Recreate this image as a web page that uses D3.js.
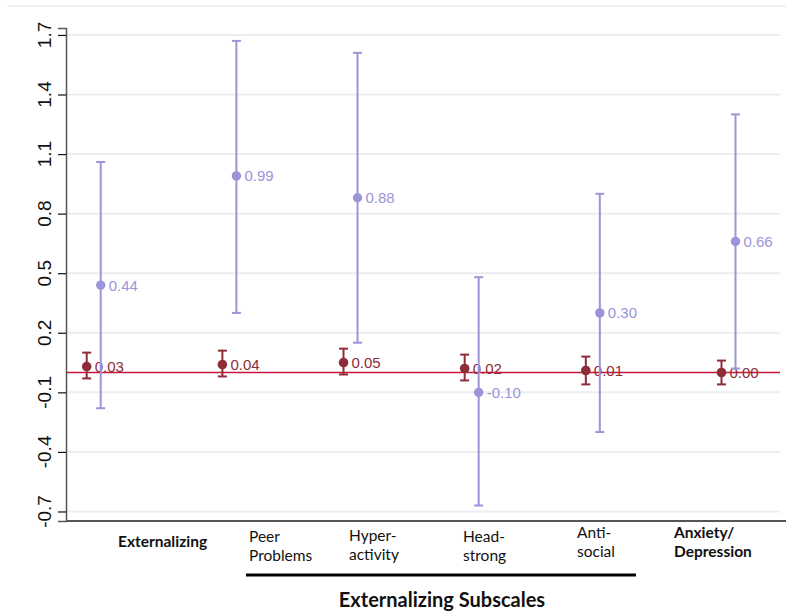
<!DOCTYPE html>
<html>
<head>
<meta charset="utf-8">
<script src="https://cdn.jsdelivr.net/npm/d3@7"></script>
<style>
    body { margin: 0; background: #fff; }
    #chart { width: 786px; height: 614px; }
    .cat-label { font-family: Lato, "Noto Sans", sans-serif; font-size: 15.5px; fill: #111; }
    .val-label { font-family: "Liberation Sans", Arial, sans-serif; font-size: 15px; }
    .y-label { font-family: "Liberation Sans", Arial, sans-serif; font-size: 19px; fill: #111; }
</style>
</head>
<body>
<div id="chart"></div>
<script>
// categories and where they sit on the original numeric x axis
const categories = ["Externalizing", "Peer Problems", "Hyper-activity", "Head-strong", "Anti-social", "Anxiety/Depression"];
const catX = [1, 2.12, 3.12, 4.12, 5.12, 6.24];

// purple series: estimate with CI
const purpleEst = [0.44, 0.99, 0.88, -0.10, 0.30, 0.66];
const purpleLo = [-0.18, 0.30, 0.15, -0.67, -0.30, 0.02];
const purpleHi = [1.06, 1.67, 1.61, 0.48, 0.90, 1.30];

// red series: estimate with CI
const redEst = [0.03, 0.04, 0.05, 0.02, 0.01, 0.00];
const redLo = [-0.03, -0.02, -0.01, -0.04, -0.06, -0.06];
const redHi = [0.10, 0.11, 0.12, 0.09, 0.08, 0.06];

const yTicks = [-0.7, -0.4, -0.1, 0.2, 0.5, 0.8, 1.1, 1.4, 1.7];

// x-axis label text (lines) and their left edges
const catLines = [["Externalizing"], ["Peer", "Problems"], ["Hyper-", "activity"], ["Head-", "strong"], ["Anti-", "social"], ["Anxiety/", "Depression"]];
const catBold = [true, false, false, false, false, true];
const labelLeft = [118, 249, 349, 463, 577, 674];
const labelTop = [547, 542, 541, 542, 538, 538];

const purple = "#9b94d8";
const red = "#8e2c38";

const svg = d3.select("#chart").append("svg")
    .attr("width", 786)
    .attr("height", 614);

const x = d3.scaleLinear().domain([1, 6.24]).range([93.7, 728.5]);
const y = d3.scaleLinear().domain([-0.748, 1.735]).range([521, 28]);

// top border line
svg.append("line")
    .attr("x1", 7).attr("x2", 786).attr("y1", 6).attr("y2", 6)
    .attr("stroke", "#e8eef2").attr("stroke-width", 1.5);

// gridlines
svg.append("g").selectAll("line")
    .data(yTicks)
    .join("line")
    .attr("x1", 67).attr("x2", 780)
    .attr("y1", d => y(d)).attr("y2", d => y(d))
    .attr("stroke", "#e9eef2").attr("stroke-width", 2);

// y axis
const yAxis = svg.append("g")
    .attr("transform", "translate(66,0)")
    .call(d3.axisLeft(y).tickValues(yTicks).tickSize(8));
yAxis.select(".domain").attr("stroke", "#555").attr("stroke-width", 1.5);
yAxis.selectAll(".tick line").attr("stroke", "#111").attr("stroke-width", 1.2);
yAxis.selectAll(".tick text").remove();

svg.append("g").selectAll("text")
    .data(yTicks)
    .join("text")
    .attr("class", "y-label")
    .attr("transform", d => `translate(51,${y(d)}) rotate(-90)`)
    .attr("text-anchor", "middle")
    .text(d => d.toFixed(1));

// x axis line
svg.append("line")
    .attr("x1", 66).attr("x2", 786).attr("y1", 521).attr("y2", 521)
    .attr("stroke", "#555").attr("stroke-width", 2);

// zero reference line
svg.append("line")
    .attr("x1", 67).attr("x2", 780).attr("y1", y(0)).attr("y2", y(0))
    .attr("stroke", "#c8163f").attr("stroke-width", 1.6);

function drawSeries(est, lo, hi, dx, color, r) {
    const g = svg.append("g");
    const rows = est.map((d, i) => ({ i: i, est: d, lo: lo[i], hi: hi[i], cx: x(catX[i]) + dx }));

    g.selectAll(".ci")
        .data(rows)
        .join("line")
        .attr("x1", d => d.cx).attr("x2", d => d.cx)
        .attr("y1", d => y(d.lo)).attr("y2", d => y(d.hi))
        .attr("stroke", color).attr("stroke-width", 2);

    ["lo", "hi"].forEach(k => {
        g.selectAll(".cap-" + k)
            .data(rows)
            .join("line")
            .attr("x1", d => d.cx - 4.5).attr("x2", d => d.cx + 4.5)
            .attr("y1", d => y(d[k])).attr("y2", d => y(d[k]))
            .attr("stroke", color).attr("stroke-width", 2);
    });

    g.selectAll("circle")
        .data(rows)
        .join("circle")
        .attr("cx", d => d.cx).attr("cy", d => y(d.est))
        .attr("r", r)
        .attr("fill", color);

    g.selectAll("text")
        .data(rows)
        .join("text")
        .attr("class", "val-label")
        .attr("x", d => d.cx + 8)
        .attr("y", d => y(d.est))
        .attr("dy", "0.36em")
        .attr("fill", color)
        .text(d => d.est.toFixed(2));
}

drawSeries(redEst, redLo, redHi, -7, red, 4.8);
drawSeries(purpleEst, purpleLo, purpleHi, 7, purple, 4.7);

// category labels
const labels = svg.append("g");
categories.forEach((c, i) => {
    const t = labels.append("text")
        .attr("class", "cat-label")
        .attr("x", labelLeft[i])
        .attr("font-weight", catBold[i] ? "bold" : "normal");
    catLines[i].forEach((ln, j) => {
        t.append("tspan")
            .attr("x", labelLeft[i])
            .attr("y", labelTop[i] + j * 19)
            .text(ln);
    });
});

// subscale bracket and title
svg.append("line")
    .attr("x1", 246).attr("x2", 636).attr("y1", 575).attr("y2", 575)
    .attr("stroke", "#000").attr("stroke-width", 3);

svg.append("text")
    .attr("x", 442).attr("y", 607)
    .attr("text-anchor", "middle")
    .attr("font-family", "Lato, 'Noto Sans', sans-serif")
    .attr("font-weight", "bold")
    .attr("font-size", 20)
    .attr("fill", "#111")
    .text("Externalizing Subscales");
</script>
</body>
</html>
